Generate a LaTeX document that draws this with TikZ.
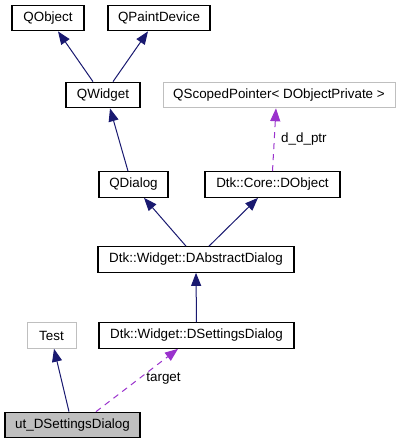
\documentclass[tikz,border=0pt]{standalone}
\usepackage{fontspec}
\setmainfont{Liberation Sans}
\usetikzlibrary{arrows.meta}
\definecolor{edgeblue}{HTML}{191970}
\definecolor{edgepurple}{HTML}{9A32CD}
\definecolor{boxgrey}{HTML}{BFBFBF}
\tikzset{
  cls/.style={draw=black, line width=1.2pt, fill=white, inner sep=0pt, font=\fontsize{13.4}{15}\selectfont, minimum height=25.5pt},
  extcls/.style={cls, draw=boxgrey, line width=1pt},
  curcls/.style={cls, fill=boxgrey},
  inh/.style={draw=edgeblue, line width=1pt, -{Triangle[length=13pt,width=10pt]}},
  usage/.style={draw=edgepurple, line width=1pt, dash pattern=on 6pt off 5pt, -{Triangle[length=13pt,width=10pt]}},
  lbl/.style={font=\fontsize{13.4}{15}\selectfont, inner sep=0pt}
}
\begin{document}
\begin{tikzpicture}[x=1pt,y=-1pt]
\useasboundingbox (0,0) rectangle (400,444);
\node[cls, minimum width=72pt] (qobject) at (48,18) {QObject};
\node[cls, minimum width=102pt] (qpaint) at (159,18) {QPaintDevice};
\node[cls, minimum width=74pt] (qwidget) at (103,95) {QWidget};
\node[extcls, minimum width=232pt] (qscoped) at (279,95) {QScopedPointer< DObjectPrivate >};
\node[cls, minimum width=69pt] (qdialog) at (133.5,184.5) {QDialog};
\node[cls, minimum width=135pt] (dobject) at (272.5,184.5) {Dtk::Core::DObject};
\node[cls, minimum width=196pt] (dabstract) at (196,259.5) {Dtk::Widget::DAbstractDialog};
\node[extcls, minimum width=49pt] (test) at (51.5,335.5) {Test};
\node[cls, minimum width=195pt] (dsettings) at (196.5,335.5) {Dtk::Widget::DSettingsDialog};
\node[curcls, minimum width=135pt] (ut) at (72.5,425) {ut\_DSettingsDialog};

\draw[inh] ([xshift=-10pt]qwidget.north) -- ([xshift=10pt]qobject.south);
\draw[inh] ([xshift=10pt]qwidget.north) -- ([xshift=-11pt]qpaint.south);
\draw[inh] ([xshift=-5.5pt]qdialog.north) -- ([xshift=7pt]qwidget.south);
\draw[inh] ([xshift=-10pt]dabstract.north) -- ([xshift=10.5pt]qdialog.south);
\draw[inh] ([xshift=13pt]dabstract.north) -- ([xshift=-14.5pt]dobject.south);
\draw[inh] (dsettings.north) -- (dabstract.south);
\draw[usage] (dobject.north) -- ([xshift=-3pt]qscoped.south);
\draw[inh] ([xshift=-3.5pt]ut.north) -- ([xshift=2.5pt]test.south);
\draw[usage] ([xshift=23.5pt]ut.north) -- ([xshift=-18.5pt]dsettings.south);

\node[lbl, anchor=west] (lddptr) at (281,139) {d\_d\_ptr};
\node[lbl] (ltarget) at (163.5,379) {target};
\end{tikzpicture}
\end{document}
